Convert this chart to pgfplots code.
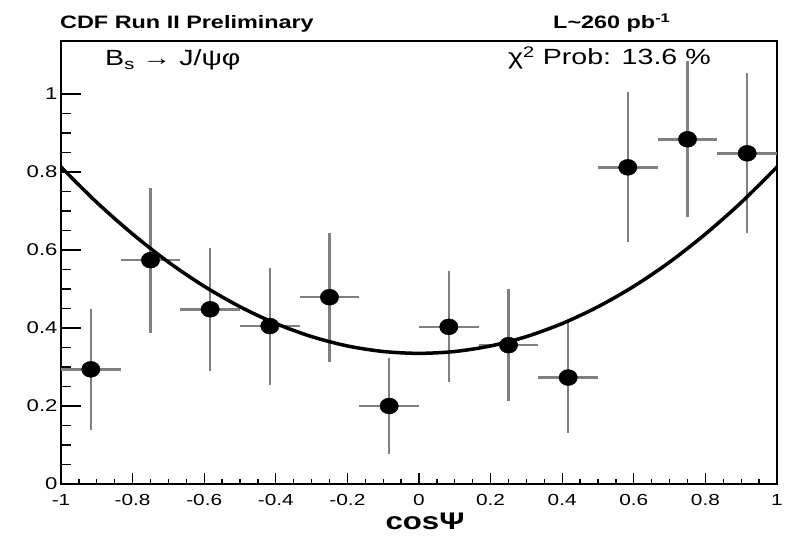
\documentclass[border=0pt]{standalone}
\usepackage{fontspec}
\setmainfont{Liberation Sans}[FakeStretch=1.3]
\usepackage{pgfplots}
\pgfplotsset{compat=1.18}
\begin{document}
\begin{tikzpicture}[x=1pt,y=1pt]
\path[use as bounding box] (0,0) rectangle (790,536);
% main axis: frame, data, x ticks
\begin{axis}[
  at={(61pt,52pt)}, anchor=south west,
  width=716pt, height=443pt, scale only axis,
  xmin=-1, xmax=1, ymin=0, ymax=1.136,
  axis line style={line width=1.3pt},
  tick align=inside, tick pos=left,
  xtick={-1,-0.8,-0.6,-0.4,-0.2,0,0.2,0.4,0.6,0.8,1},
  xticklabels={-1,-0.8,-0.6,-0.4,-0.2,0,0.2,0.4,0.6,0.8,1},
  minor x tick num=3,
  ytick=\empty,
  major tick length=11pt, minor tick length=5pt,
  every tick/.style={black, line width=1.3pt},
  xticklabel style={font=\fontsize{16}{16}\selectfont, yshift=-7pt},
]
\addplot[only marks, mark=*, mark size=8pt, black,
  mark options={xscale=1.15},
  error bars/.cd, x dir=both, x explicit, y dir=both, y explicit,
  error mark=none,
  error bar style={line width=2.5pt, color=gray}]
coordinates {
(-0.9167,0.294) +- (0.0833,0.155)
(-0.75,0.574) +- (0.0833,0.186)
(-0.5833,0.448) +- (0.0833,0.158)
(-0.4167,0.405) +- (0.0833,0.150)
(-0.25,0.479) +- (0.0833,0.165)
(-0.0833,0.200) +- (0.0833,0.124)
(0.0833,0.403) +- (0.0833,0.142)
(0.25,0.356) +- (0.0833,0.144)
(0.4167,0.273) +- (0.0833,0.142)
(0.5833,0.812) +- (0.0833,0.192)
(0.75,0.884) +- (0.0833,0.200)
(0.9167,0.848) +- (0.0833,0.205)
};
\addplot[black, line width=3.5pt, smooth] coordinates {
(-1,0.813) (-0.9,0.722) (-0.8,0.641) (-0.7,0.569) (-0.6,0.507)
(-0.5,0.4545) (-0.4,0.4115) (-0.3,0.378) (-0.2,0.354) (-0.1,0.3398)
(0,0.335) (0.1,0.3398) (0.2,0.354) (0.3,0.378) (0.4,0.4115)
(0.5,0.4545) (0.6,0.507) (0.7,0.569) (0.8,0.641) (0.9,0.722) (1,0.813)
};
\end{axis}
% second axis: y ticks only
\begin{axis}[
  at={(61pt,52pt)}, anchor=south west,
  width=716pt, height=443pt, scale only axis,
  xmin=-1, xmax=1, ymin=0, ymax=1.136,
  axis line style={draw=none},
  tick align=inside, tick pos=left,
  xtick=\empty,
  ytick={0,0.2,0.4,0.6,0.8,1},
  yticklabels={0,0.2,0.4,0.6,0.8,1},
  minor y tick num=3,
  major tick length=20pt, minor tick length=10pt,
  every tick/.style={black, line width=1.3pt},
  yticklabel style={font=\fontsize{17}{17}\selectfont},
]
\end{axis}
\node[anchor=base west, inner sep=0pt] at (60,507) {\fontsize{18}{18}\selectfont\bfseries CDF Run II  Preliminary};
\node[anchor=base west, inner sep=0pt] at (553,507) {\fontsize{18}{18}\selectfont\bfseries L\textasciitilde 260 pb\textsuperscript{-1}};
\node[anchor=base west, inner sep=0pt] at (105,470) {\fontsize{22}{22}\selectfont B\textsubscript{s} → J/ψφ};
\node[anchor=base west, inner sep=0pt] at (508,471) {\fontsize{22}{22}\selectfont χ\textsuperscript{2} Prob: 13.6 \%};
\node[anchor=base, inner sep=0pt] at (425,7) {\fontsize{24}{24}\selectfont\bfseries cosΨ};
\end{tikzpicture}
\end{document}
